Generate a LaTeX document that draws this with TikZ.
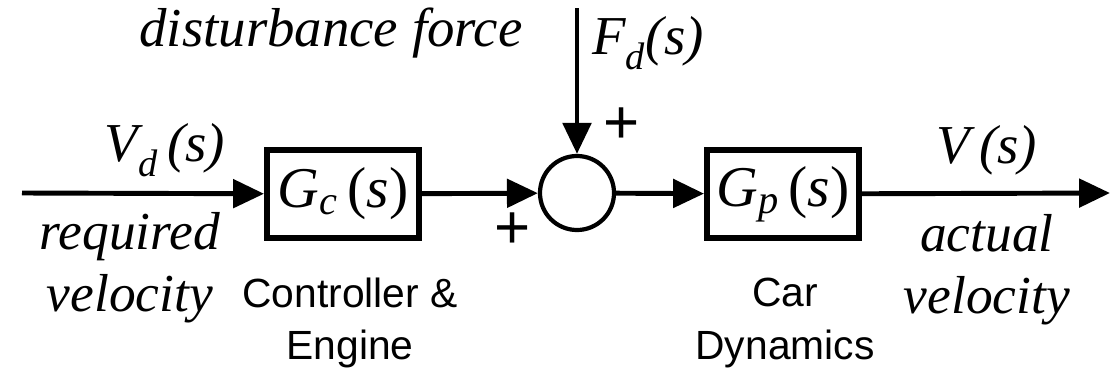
\documentclass[tikz,border=0pt]{standalone}
\usepackage{fontspec}
\setmainfont{Liberation Serif}
\setsansfont{Liberation Sans}
\usetikzlibrary{positioning,arrows.meta}

\newcommand{\sig}[2]{\textit{#1}\textsubscript{\textit{#2}}\,(\textit{s})}

\begin{document}
\begin{tikzpicture}[
			x=0.025cm, y=-0.025cm,
			block/.style={
					draw,
					line width=4.2pt,
					minimum width=3.8cm,
					minimum height=2.2cm,
					inner sep=0pt,
					font=\fontsize{41}{44}\selectfont
				},
			sumnode/.style={
					draw,
					circle,
					line width=3pt,
					minimum size=1.85cm,
					inner sep=0pt
				},
			label/.style={
					inner sep=0pt,
					font=\fontsize{39}{44}\selectfont\itshape
				},
			caption/.style={
					inner sep=0pt,
					align=center,
					font=\fontsize{29}{37}\selectfont\sffamily
				},
			note/.style={
					inner sep=0pt,
					align=center,
					font=\fontsize{38}{44}\selectfont\itshape
				},
			sign/.style={
					inner sep=0pt,
					font=\fontsize{44}{44}\selectfont\sffamily
				},
			link/.style={
					line width=3.5pt,
					-{Triangle[length=22pt,width=20pt]}
				}
		]

		\useasboundingbox (0,0) rectangle (1112,382);

		\coordinate (in) at (22,193);
		\node (ctrl) [block] at (343,194) {\sig{G}{c}};
		\node (sum) [sumnode] at (577,193) {};
		\node (plant) [block] at (783,194) {\sig{G}{p}};
		\coordinate (out) at (1110,193);
		\coordinate (dist) at (577,8);

		% signals and labels
		\node (vd) [label] at (165,150) {\sig{V}{d}};
		\node (req) [note] at (130,268) {required\\velocity};
		\node (ctrlcap) [caption] at (350,323) {Controller \&\\Engine};
		\node (plantcap) [caption] at (785,323) {Car\\Dynamics};
		\node (v) [label] at (987,150) {\textit{V}\,(\textit{s})};
		\node (act) [note] at (987,270) {actual\\velocity};
		\node (distcap) [label] at (331,33) {disturbance force};
		\node (fd) [label] at (648,43) {\textit{F}\textsubscript{\textit{d}}\textit{(s)}};
		\node (plus1) [sign] at (622,126) {+};
		\node (plus2) [sign] at (513,231) {+};

		\draw[link] (in) -- (ctrl);
		\draw[link] (ctrl) -- (sum);
		\draw[link] (dist) -- (sum);
		\draw[link] (sum) -- (plant);
		\draw[link] (plant) -- (out);

	\end{tikzpicture}
\end{document}
